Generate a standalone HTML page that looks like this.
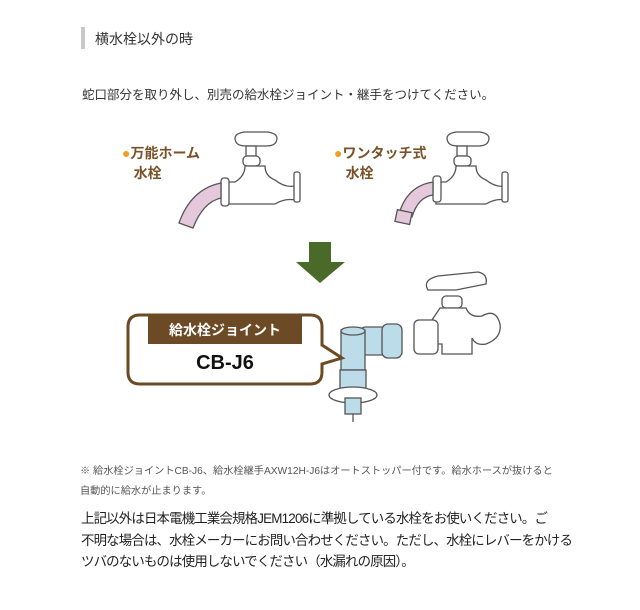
<!DOCTYPE html>
<html><head><meta charset="utf-8"><style>
body{margin:0;width:640px;height:610px;background:#fff;position:relative;overflow:hidden;font-family:"Liberation Sans","Noto Sans CJK JP",sans-serif;color:#333}
.a{position:absolute;white-space:nowrap}
</style></head><body>
<div class="a" style="left:81px;top:27px;width:4px;height:22px;background:#c8c8c8"></div>
<div class="a" style="left:95px;top:29px;font-size:14px;color:#333">横水栓以外の時</div>
<div class="a" style="left:82px;top:84px;font-size:12.5px;color:#333">蛇口部分を取り外し、別売の給水栓ジョイント・継手をつけてください。</div>

<div class="a" style="left:122px;top:143px;font-size:14px;font-weight:bold;color:#7a5228;line-height:20px"><span style="color:#f0a020">●</span>万能ホーム<br>&nbsp;&nbsp;&nbsp;水栓</div>
<div class="a" style="left:334px;top:143px;font-size:14px;font-weight:bold;color:#7a5228;line-height:20px"><span style="color:#f0a020">●</span>ワンタッチ式<br>&nbsp;&nbsp;&nbsp;水栓</div>

<svg class="a" style="left:0;top:0" width="640" height="610">
<g fill="#fff" stroke="#555" stroke-width="1.3">
<path d="M236 142 q-4-8 8-10 h24 q12 2 8 10 q-2 4-10 4 h-20 q-8 0-10-4z"/>
<rect x="246" y="146" width="10" height="10"/>
<rect x="243" y="156" width="17" height="10" rx="4"/>
<path d="M245 166 q0 10 -10 16 h-10 v22 h50 q10-6 20-4 v-14 q-10 2-20 -6 q-10-4-10-14z"/>
<rect x="294" y="172" width="6" height="30" rx="2"/>
<rect x="221" y="178" width="8" height="28" rx="3"/>
<path d="M221 183 q-30 6-42 40 l14 5 q10-26 28-30z" fill="#e6c8dc"/>
<path d="M448 142 q-4-8 8-10 h24 q12 2 8 10 q-2 4-10 4 h-20 q-8 0-10-4z"/>
<rect x="457" y="146" width="10" height="10"/>
<rect x="454" y="156" width="17" height="10" rx="4"/>
<path d="M456 166 q0 10 -10 16 h-10 v22 h50 q10-6 20-4 v-14 q-10 2-20 -6 q-10-4-10-14z"/>
<rect x="502" y="172" width="6" height="30" rx="2"/>
<rect x="433" y="176" width="8" height="26" rx="3"/>
<path d="M433 182 q-26 4-34 32 l13 3 q6-20 21-22z" fill="#e6c8dc"/>
<rect x="396" y="211" width="15" height="12" fill="#e6c8dc" transform="rotate(12 403 217)"/>
<path d="M428 290 q-6-10 10-14 l40 -4 q10 2 8 12 l-30 6z"/>
<rect x="442" y="296" width="20" height="12" rx="4"/>
<path d="M440 308 h26 q4 10 16 8 q14-8 18 8 q2 14-14 20 q-10 2-14-6 v16 h-30 v-10 h-10 v-24z"/>
<rect x="414" y="320" width="24" height="34" rx="5"/>
<rect x="358" y="327" width="32" height="28" rx="8" fill="#bcdcea"/>
<rect x="382" y="324" width="20" height="34" rx="6" fill="#bcdcea"/>
<rect x="341" y="330" width="24" height="40" fill="#bcdcea"/>
<ellipse cx="353" cy="331" rx="12" ry="4" fill="#bcdcea"/>
<rect x="340" y="370" width="26" height="18" fill="#bcdcea"/>
<ellipse cx="353" cy="395" rx="24" ry="8"/>
<rect x="345" y="398" width="16" height="16" fill="#bcdcea"/>
<path d="M353 414 v8" />
</g>
<polygon points="309,242 331,242 331,262 345,262 320,283 296,262 309,262" fill="#4a6a2a"/>
<path d="M140 315 h170 q12 0 12 12 v18 l20 13 l-20 6 v8 q0 12-12 12 h-170 q-12 0-12-12 v-45 q0-12 12-12z" fill="#fff" stroke="#6b4a25" stroke-width="3"/>
<rect x="148" y="315" width="154" height="29" fill="#6b4a25"/>
</svg>
<div class="a" style="left:148px;top:320px;width:154px;text-align:center;font-size:14px;font-weight:bold;color:#fff">給水栓ジョイント</div>
<div class="a" style="left:128px;top:352px;width:194px;text-align:center;font-size:20px;font-weight:bold;color:#111">CB-J6</div>

<div class="a" style="left:80px;top:462px;font-size:10.2px;color:#555;line-height:20px">※ 給水栓ジョイントCB-J6、給水栓継手AXW12H-J6はオートストッパー付です。給水ホースが抜けると<br>自動的に給水が止まります。</div>
<div class="a" style="left:81px;top:508px;font-size:13.4px;letter-spacing:-0.8px;color:#222;line-height:21.5px">上記以外は日本電機工業会規格JEM1206に準拠している水栓をお使いください。ご<br>不明な場合は、水栓メーカーにお問い合わせください。ただし、水栓にレバーをかける<br>ツバのないものは使用しないでください（水漏れの原因）。</div>
</body></html>
